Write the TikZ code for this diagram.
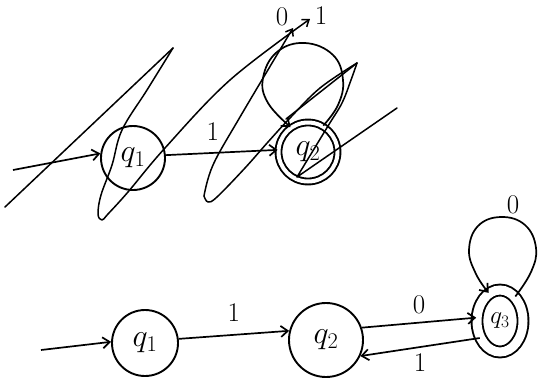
\RequirePackage{fix-cm}
\documentclass[tikz,border=0pt]{standalone}
\usepackage{tikz}
\usetikzlibrary{arrows.meta,shapes.geometric}
\tikzset{
  qnode/.style={circle, draw, line width=1.9pt, inner sep=0pt, font=\fontsize{32}{36}\selectfont},
  accnode/.style={qnode, double, double distance=4pt},
  arr/.style={-{Straight Barb[length=7pt,width=11pt]}, line width=1.7pt},
  lbl/.style={font=\fontsize{27}{31}\selectfont, inner sep=0pt},
  scrib/.style={line width=1.5pt, line join=round, line cap=round},
  scribarr/.style={scrib, -{Straight Barb[length=6pt,width=9pt]}},
}
\begin{document}
\begin{tikzpicture}[x=1pt,y=-1pt]
  \useasboundingbox (0,0) rectangle (540,378);
  % first try (crossed out)
  \node[qnode, minimum size=64pt] (q1top) at (133,158) {$q_1$};
  \node[accnode, minimum size=59pt] (q2top) at (308,152) {$q_2$};
  \coordinate (starttop) at (13,170);
  \draw[arr] (starttop) -- (q1top.172);
  \draw[arr] (q1top.5) -- node[lbl, above=12pt, pos=0.42] (lblonetop) {1} (q2top.176);
  \draw[arr] plot[smooth, tension=0.7] coordinates {(q2top.60) (338,105) (343,80) (333,55) (305,43) (277,52) (263,78) (268,103) (q2top.125)};
  \node[lbl] (lblzero) at (282,17) {0};
  \node[lbl] (lblone) at (321,16) {1};
  % strokes over it
  \draw[scrib] (5,207) -- (173,48);
  \draw[scribarr] plot[smooth, tension=0.6] coordinates {(173,48) (147,90) (122,130) (112,165) (101,195) (98,214) (102,220) (108,214) (128,192) (165,148) (230,80) (310,19)};
  \draw[scribarr] plot[smooth, tension=0.6] coordinates {(204,196) (213,165) (240,117) (293,28)};
  \draw[scrib] plot[smooth, tension=0.6] coordinates {(204,196) (208,202) (217,197) (245,168) (268,142) (290,118) (320,88) (357,63)};
  \draw[scrib] plot[smooth, tension=0.6] coordinates {(357,63) (351,80) (342,103) (328,126) (297,177)} -- (397,108);
  \draw[scrib] (357,63) -- (286,119);
  % second try
  \node[qnode, minimum size=66pt] (q1) at (145,343) {$q_1$};
  \node[qnode, minimum size=74pt] (q2) at (326,340) {$q_2$};
  \node[accnode, ellipse, double distance=9pt, minimum width=46pt, minimum height=62pt, font=\fontsize{25}{29}\selectfont] (q3) at (500,321) {$q_3$};
  \coordinate (start) at (41,350);
  \draw[arr] (start) -- (q1.178);
  \draw[arr] (q1.7) -- node[lbl, above=12pt] (lblone12) {1} (q2.166);
  \draw[arr] (q2.19) -- node[lbl, above=8pt] (lblzero23) {0} (q3.172);
  \draw[arr] (q3.220) -- node[lbl, below=6pt] (lblone32) {1} (q2.-25);
  \draw[arr] plot[smooth, tension=0.7] coordinates {(q3.58) (531,272) (536,248) (525,225) (501,217) (478,226) (469,250) (476,274) (q3.112)};
  \node[lbl] (lblzero33) at (513,205) {0};
\end{tikzpicture}
\end{document}
